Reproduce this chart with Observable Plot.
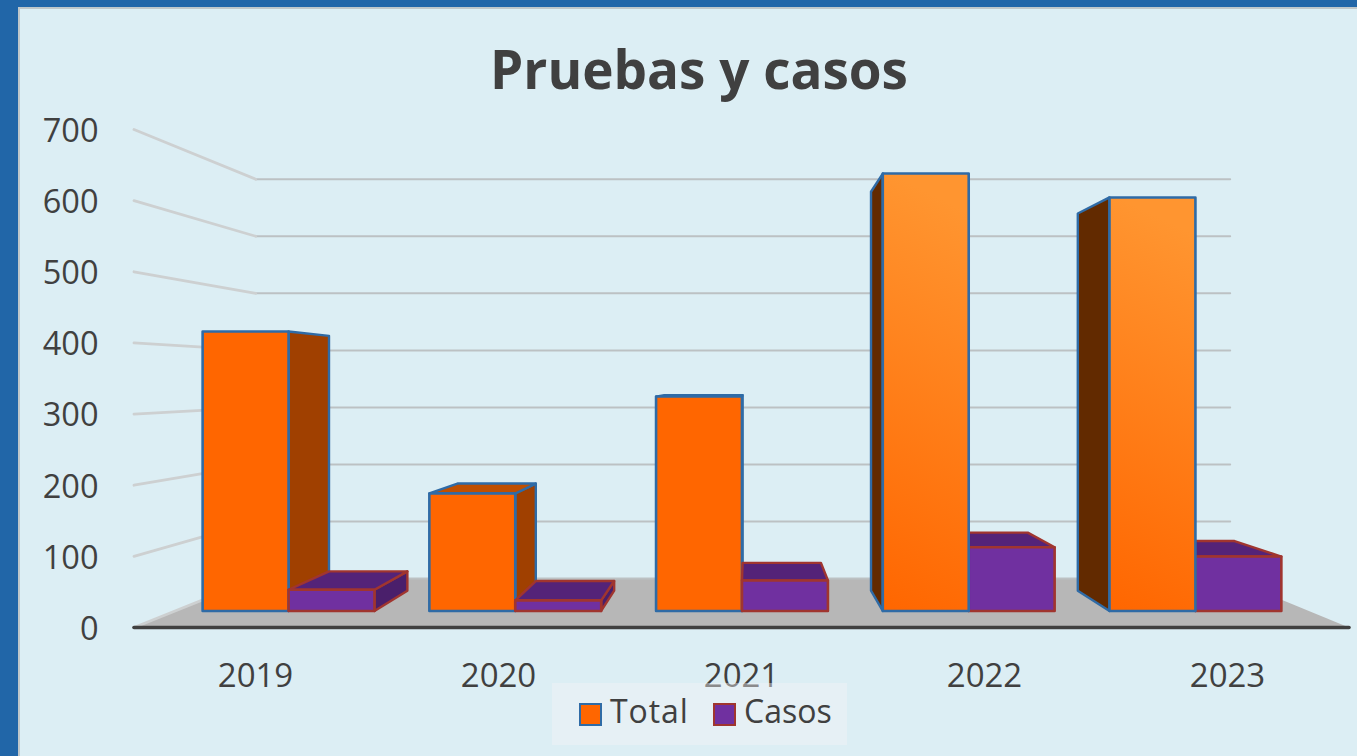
<!DOCTYPE html>
<html lang="es">
<head>
<meta charset="utf-8">
<script src="https://cdn.jsdelivr.net/npm/d3@7"></script>
<script src="https://cdn.jsdelivr.net/npm/@observablehq/plot@0.6"></script>
<style>
  html, body { margin: 0; padding: 0; width: 1357px; height: 756px; overflow: hidden; background: #2166A8; font-family: "Open Sans", sans-serif; }
  #panel { position: absolute; left: 18px; top: 7px; width: 1339px; height: 749px; background: #DCEEF4; border-left: 2px solid #BFC7CA; border-top: 2px solid #BFC7CA; box-sizing: border-box; }
  #chart { position: absolute; left: 0; top: 0; }
  #title { position: absolute; left: 0; width: 1398px; top: 31px; text-align: center; font-size: 53px; line-height: 76px; font-weight: 700; color: #404040; }
  #legend { position: absolute; left: 552px; top: 683px; width: 295px; height: 62px; background: rgba(242,244,246,.42); color: #404040; font-size: 32px; }
  #legend i { position: absolute; top: 20px; width: 19px; height: 19px; border-width: 2px; border-style: solid; }
  #legend span { position: absolute; top: 6px; line-height: 44px; }
</style>
</head>
<body>
<div id="panel"></div>
<div id="chart"></div>
<div id="title">Pruebas y casos</div>
<div id="legend">
  <i style="left:27px;background:#FF6600;border-color:#2F6BA6"></i><span style="left:58px;letter-spacing:.9px">Total</span>
  <i style="left:161px;background:#7030A0;border-color:#A0352F"></i><span style="left:192px">Casos</span>
</div>
<script>
const years = ["2019", "2020", "2021", "2022", "2023"];
const total = [421, 177, 323, 659, 623];
const casos = [32, 16, 46, 96, 82];
const valueTicks = [0, 100, 200, 300, 400, 500, 600, 700];

// Perspective of the 3-D scene, in data units (category slot, value, depth)
const vanish = {x: 2.03, y: 347};
const wallDepth = 0.198, barFront = 0.067, barBack = 0.149, barWidth = 0.379;
const project = (x, y, t) => ({x: x + (vanish.x - x) * t, y: y + (vanish.y - y) * t});

const face = (pts, fill, stroke, strokeWidth) =>
  Plot.line(pts, {x: "x", y: "y", curve: "linear-closed", fill, stroke, strokeWidth, strokeLinejoin: "round"});

// Only the faces that the viewpoint can see are drawn, back to front
function bar(x0, x1, v, style) {
  const p = project;
  const {front, top, side, sideLeft, stroke} = style;
  const faces = [];
  if (x0 > vanish.x) faces.push(face([p(x0, 0, barFront), p(x0, v, barFront), p(x0, v, barBack), p(x0, 0, barBack)], sideLeft, stroke, 2.4));
  if (x1 < vanish.x) faces.push(face([p(x1, 0, barFront), p(x1, v, barFront), p(x1, v, barBack), p(x1, 0, barBack)], side, stroke, 2.4));
  if (v < vanish.y) faces.push(face([p(x0, v, barFront), p(x1, v, barFront), p(x1, v, barBack), p(x0, v, barBack)], top, stroke, 2.4));
  faces.push(face([p(x0, 0, barFront), p(x1, 0, barFront), p(x1, v, barFront), p(x0, v, barFront)], front, stroke, 2.6));
  return faces;
}

const totalStyle = i => ({
  front: i >= 3 ? "url(#lit)" : "#FF6600",
  top: "#C04F00", side: "#A04000", sideLeft: "#622A00", stroke: "#2F6BA6"
});
const casosStyle = () => ({
  front: "#7030A0", top: "#542378", side: "#4A1F6B", sideLeft: "#4A1F6B", stroke: "#A0352F"
});

const bars = years.flatMap((_, i) => {
  const t = bar(i - barWidth, i, total[i], totalStyle(i));
  const c = bar(i, i + barWidth, casos[i], casosStyle());
  return i < vanish.x ? [...t, ...c] : [...c, ...t];
});

const defs = () => {
  const d = d3.create("svg:defs");
  const g = d.append("linearGradient").attr("id", "lit").attr("x1", 0.1).attr("y1", 0).attr("x2", 0).attr("y2", 1);
  g.append("stop").attr("offset", 0).attr("stop-color", "#FF9530");
  g.append("stop").attr("offset", 1).attr("stop-color", "#FF6600");
  return d.node();
};

const chart = Plot.plot({
  width: 1357,
  height: 756,
  marginLeft: 133.5,
  marginRight: 8.5,
  marginTop: 129,
  marginBottom: 129,
  style: {background: "transparent", overflow: "visible"},
  x: {domain: [-0.5, 4.5]},
  y: {domain: [0, 700]},
  marks: [
    defs,
    // floor
    face([project(-0.5, 0, 0), project(4.5, 0, 0), project(4.5, 0, wallDepth), project(-0.5, 0, wallDepth)], "#B7B7B7", "none", 0),
    // back wall gridlines
    ...valueTicks.map(v => Plot.line([project(-0.5, v, wallDepth), project(4.5, v, wallDepth)], {x: "x", y: "y", stroke: "#BCC1C3", strokeWidth: 2})),
    // side wall gridlines
    ...valueTicks.map(v => Plot.line([project(-0.5, v, 0), project(-0.5, v, wallDepth)], {x: "x", y: "y", stroke: "#CDD0D1", strokeWidth: 2.8})),
    ...bars,
    // base axis line
    Plot.line([project(-0.5, 0, 0), project(4.5, 0, 0)], {x: "x", y: "y", stroke: "#404040", strokeWidth: 3.6, strokeLinecap: "round"}),
    Plot.axisY({anchor: "left", ticks: valueTicks, tickSize: 0, tickPadding: 35.5, dy: 2, label: null, fontSize: 32.5, fontFamily: "Open Sans", fill: "#404040"}),
    Plot.axisX({anchor: "bottom", ticks: years.map((_, i) => i), tickFormat: i => years[i], tickSize: 0, tickPadding: 36, label: null, fontSize: 33, fontFamily: "Open Sans", fill: "#404040"})
  ]
});
document.getElementById("chart").append(chart);
</script>
</body>
</html>
